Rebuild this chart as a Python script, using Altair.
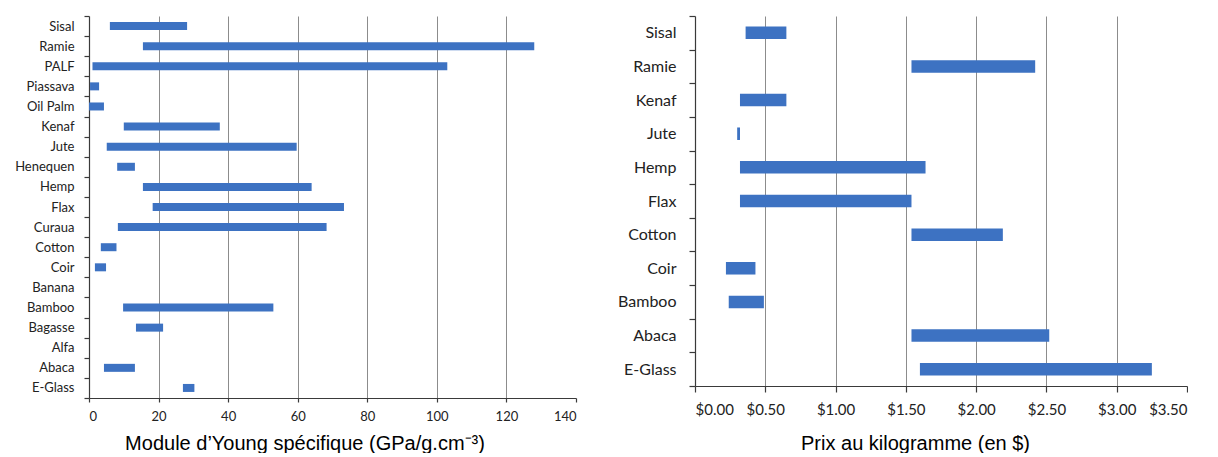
import altair as alt
import pandas as pd

# ---- Data: specific Young's modulus (GPa/g.cm-3), ranges ----
mod_cats = ["Sisal", "Ramie", "PALF", "Piassava", "Oil Palm", "Kenaf", "Jute",
            "Henequen", "Hemp", "Flax", "Curaua", "Cotton", "Coir", "Banana",
            "Bamboo", "Bagasse", "Alfa", "Abaca", "E-Glass"]
mod_low = [6, 15.5, 1, 0.3, 0, 10, 5.1, 8.1, 15.5, 18.3, 8.3, 3.4, 1.7, None,
           9.8, 13.5, None, 4.3, 27]
mod_high = [28.2, 128, 103, 2.9, 4.3, 37.6, 59.7, 13.2, 64, 73.3, 68.3, 7.9, 4.9, None,
            53, 21.3, None, 13.2, 30.3]
mod_ticks = [0, 20, 40, 60, 80, 100, 120, 140]

# ---- Data: price per kilogram ($), ranges ----
price_cats = ["Sisal", "Ramie", "Kenaf", "Jute", "Hemp", "Flax", "Cotton", "Coir",
              "Bamboo", "Abaca", "E-Glass"]
price_low = [0.36, 1.54, 0.32, 0.30, 0.32, 0.32, 1.54, 0.22, 0.24, 1.54, 1.60]
price_high = [0.65, 2.42, 0.65, 0.32, 1.64, 1.54, 2.19, 0.43, 0.49, 2.52, 3.25]
price_ticks = [0, 0.5, 1.0, 1.5, 2.0, 2.5, 3.0, 3.5]

BLUE = "#3d72c2"
GRID = "#8c8c8c"
AX = "#3a3a3a"

df1 = pd.DataFrame({"cat": mod_cats, "low": mod_low, "high": mod_high}).dropna()
df2 = pd.DataFrame({"cat": price_cats, "low": price_low, "high": price_high})

LW, LH = 487, 382
RW, RH = 492, 370

left = alt.Chart(df1).mark_bar(color=BLUE, size=8).encode(
    x=alt.X("low:Q",
            scale=alt.Scale(domain=[0, 140], nice=False, zero=True),
            axis=alt.Axis(values=mod_ticks, grid=True, gridColor=GRID,
                          gridOpacity={"condition": {"test": "datum.value >= 140 || datum.value <= 0", "value": 0}, "value": 1},
                          domainColor=AX, tickColor=AX, tickSize=4,
                          labelFont="Lato", labelFontSize=13, labelColor="#222222",
                          labelPadding=8,
                          title="Module d\u2019Young sp\u00e9cifique (GPa/g.cm\u207b\u00b3)",
                          titleFont="Liberation Sans", titleFontSize=20,
                          titleFontWeight="normal", titleColor="#000000",
                          titleAnchor="middle", titleX=LW / 2 - 28,
                          titlePadding=10)),
    x2="high:Q",
    y=alt.Y("cat:N", sort=mod_cats,
            scale=alt.Scale(domain=mod_cats, paddingInner=0, paddingOuter=0),
            axis=alt.Axis(title=None, tickBand="extent", tickSize=5, tickColor=AX,
                          domainColor=AX, labelFont="Lato", labelFontSize=13,
                          labelColor="#222222", labelPadding=10,
                          minExtent=81, maxExtent=81, grid=False)),
).properties(width=LW, height=LH)

right = alt.Chart(df2).mark_bar(color=BLUE, size=12.5).encode(
    x=alt.X("low:Q",
            scale=alt.Scale(domain=[0, 3.5], nice=False, zero=True),
            axis=alt.Axis(values=price_ticks, format="$.2f", grid=True, gridColor=GRID,
                          gridOpacity={"condition": {"test": "datum.value >= 3.5 || datum.value <= 0", "value": 0}, "value": 1},
                          domainColor=AX, tickColor=AX, tickSize=6,
                          labelFont="Lato", labelFontSize=15, labelColor="#222222",
                          labelPadding=10,
                          title="Prix au kilogramme (en $)",
                          titleFont="Liberation Sans", titleFontSize=20,
                          titleFontWeight="normal", titleColor="#000000",
                          titleAnchor="middle", titleX=RW / 2 - 26,
                          titlePadding=16)),
    x2="high:Q",
    y=alt.Y("cat:N", sort=price_cats,
            scale=alt.Scale(domain=price_cats, paddingInner=0, paddingOuter=0),
            axis=alt.Axis(title=None, tickBand="extent", tickSize=6, tickColor=AX,
                          domainColor=AX, labelFont="Lato", labelFontSize=16,
                          labelColor="#222222", labelPadding=13,
                          minExtent=70, maxExtent=70, grid=False)),
).properties(width=RW, height=RH)

chart = alt.hconcat(left, right, spacing=40).properties(
    padding={"left": 0, "top": 0, "right": 0, "bottom": 0}
).configure_view(stroke=None).configure_axis(domainWidth=1.2, tickWidth=1.2)

chart.save("out.html", embed_options={"renderer": "svg", "actions": False})
